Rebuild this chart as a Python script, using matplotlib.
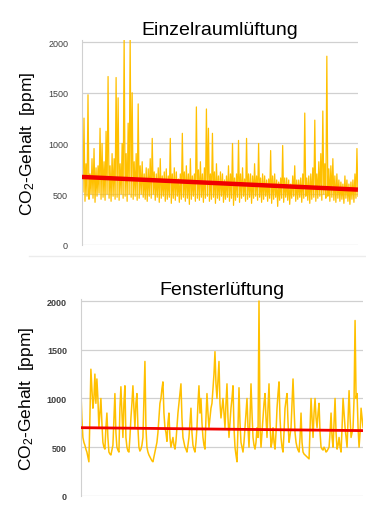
import numpy as np
import matplotlib
matplotlib.use("Agg")
import matplotlib.pyplot as plt
from matplotlib.lines import Line2D

plt.rcParams['font.family'] = ['Liberation Sans', 'DejaVu Sans']
plt.rcParams['mathtext.fontset'] = 'custom'
plt.rcParams['mathtext.rm'] = 'Liberation Sans'
plt.rcParams['mathtext.it'] = 'Liberation Sans'

# CO2 readings (ppm).
# Einzelraumlueftung: upper and lower readings, alternating every ~1 px
einzel_hi = [720, 1250, 800, 1480, 700, 850, 950, 760, 780, 1150,
             1000, 820, 1120, 1660, 780, 900, 850, 1650, 1450, 800,
             1000, 2050, 900, 1200, 2050, 1500, 820, 900, 1390, 780,
             820, 700, 760, 750, 850, 1050, 720, 700, 760, 850,
             680, 720, 750, 680, 1050, 700, 760, 720, 650, 700,
             1100, 720, 780, 700, 850, 680, 700, 1360, 740, 820,
             700, 760, 1340, 1150, 700, 1100, 720, 800, 680, 720,
             700, 640, 680, 780, 700, 1000, 660, 700, 1030, 700,
             760, 650, 1050, 700, 700, 680, 800, 680, 1000, 660,
             700, 680, 640, 650, 930, 680, 700, 640, 620, 660,
             980, 660, 660, 640, 600, 680, 780, 640, 640, 660,
             700, 1300, 660, 680, 700, 760, 1230, 700, 820, 900,
             1320, 800, 1860, 750, 780, 850, 680, 700, 640, 620,
             600, 680, 640, 600, 620, 640, 700, 950]
einzel_lo = [520, 430, 480, 450, 500, 460, 420, 480, 510, 450,
             470, 440, 500, 460, 430, 480, 450, 470, 440, 500,
             460, 480, 430, 500, 470, 450, 480, 440, 460, 500,
             470, 450, 430, 480, 460, 500, 440, 470, 420, 460,
             480, 430, 450, 470, 410, 460, 440, 480, 420, 450,
             470, 430, 460, 400, 450, 480, 430, 460, 440, 470,
             420, 460, 480, 430, 450, 470, 410, 460, 440, 480,
             420, 450, 470, 430, 460, 390, 440, 470, 420, 460,
             480, 430, 450, 470, 410, 460, 480, 440, 470, 420,
             450, 480, 430, 460, 410, 450, 470, 380, 440, 460,
             420, 470, 440, 400, 460, 480, 430, 450, 470, 420,
             460, 480, 440, 410, 450, 470, 430, 460, 480, 440,
             500, 460, 480, 430, 470, 440, 420, 460, 430, 450,
             410, 460, 430, 400, 450, 420, 460, 480]
einzel_trend = [670, 545]

# Fensterlueftung: main readings and the readings in between
fenster_a = [1080, 600, 520, 450, 350, 1300, 900, 1250, 1200, 700,
             1000, 550, 480, 850, 450, 420, 520, 1050, 500, 450,
             1120, 600, 1130, 500, 450, 800, 1130, 700, 1050, 500,
             480, 600, 1380, 500, 420, 380, 350, 450, 550, 800,
             1000, 1170, 700, 560, 850, 500, 600, 480, 700, 950,
             1150, 600, 500, 450, 600, 900, 520, 450, 700, 1130,
             1000, 600, 480, 1050, 700, 900, 1100, 1480, 1000, 1380,
             800, 1000, 700, 1150, 600, 900, 1130, 500, 350, 1110,
             550, 450, 700, 1000, 500, 1150, 600, 480, 700, 2000,
             500, 800, 1050, 600, 1150, 500, 700, 480, 900, 1170,
             600, 450, 900, 1050, 550, 700, 1200, 650, 500, 450,
             850, 450, 420, 400, 380, 1000, 600, 1000, 700, 950,
             500, 470, 480, 460, 500, 850, 500, 1000, 480, 600,
             450, 1000, 700, 500, 1080, 600, 700, 1800, 1050, 500,
             900, 700]
fenster_b = [800, 550, 480, 400, 800, 1100, 1000, 950, 1000, 850,
             750, 500, 700, 600, 430, 470, 800, 650, 470, 900,
             850, 950, 600, 460, 600, 950, 900, 950, 700, 460,
             520, 1000, 700, 450, 400, 360, 400, 500, 650, 950,
             1100, 850, 650, 750, 600, 550, 520, 560, 850, 1050,
             800, 550, 480, 520, 750, 650, 480, 550, 950, 850,
             750, 520, 800, 850, 800, 950, 1250, 1150, 1200, 950,
             900, 850, 950, 800, 750, 1000, 700, 420, 700, 750,
             500, 550, 850, 700, 800, 850, 520, 550, 600, 700,
             650, 950, 800, 900, 750, 550, 550, 650, 1050, 800,
             500, 650, 980, 750, 620, 950, 900, 550, 470, 600,
             550, 430, 410, 390, 700, 800, 850, 800, 850, 650,
             480, 500, 450, 480, 650, 600, 750, 650, 520, 500,
             700, 850, 600, 800, 800, 650, 1000, 1000, 700, 650,
             800]
fenster_trend = [700, 670]

titles = ['Einzelraumlüftung', 'Fensterlüftung']
yticks = [0, 500, 1000, 1500, 2000]

# merge the alternating readings into one series per panel
einzel = []
for h, l in zip(einzel_hi, einzel_lo):
    einzel += [h, l]
fenster = []
for a, b in zip(fenster_a, fenster_b):
    fenster += [a, b]
fenster.append(fenster_a[-1])

fig = plt.figure(figsize=(3.66, 5.06), dpi=100)
ax1 = fig.add_axes([0.224, 0.514, 0.754, 0.405])
ax2 = fig.add_axes([0.221, 0.018, 0.771, 0.389])

panels = [(ax1, einzel, einzel_trend, 3.2, 'normal', 0.9),
          (ax2, fenster, fenster_trend, 2.0, 'bold', 1.1)]

for k, (ax, vals, trend, tlw, wt, lw) in enumerate(panels):
    x = np.arange(len(vals))
    ax.plot(x, vals, color='#FFC000', lw=lw, zorder=2)
    ax.plot([x[0], x[-1]], trend, color='#F00000', lw=tlw, zorder=3,
            solid_capstyle='butt')
    ax.set_xlim(0, len(vals) - 1)
    ax.set_ylim(0, 2020)
    ax.set_yticks(yticks)
    ax.set_yticklabels([str(t) for t in yticks], fontsize=6.5,
                       color='#404040', fontweight=wt)
    ax.tick_params(axis='y', length=0, pad=10)
    ax.set_xticks([])
    ax.grid(axis='y', color='#d0d0d0', lw=0.9, zorder=0)
    for s in ['top', 'right', 'bottom']:
        ax.spines[s].set_visible(False)
    ax.spines['left'].set_color('#d0d0d0')
    ax.set_title(titles[k], fontsize=14, pad=4)
    ax.set_ylabel('CO$_2$-Gehalt  [ppm]', fontsize=12.5, labelpad=8)

fig.add_artist(Line2D([0.08, 1.0], [1 - 257 / 506] * 2, color='#ececec', lw=1))

fig.savefig('out.png', dpi=100)
